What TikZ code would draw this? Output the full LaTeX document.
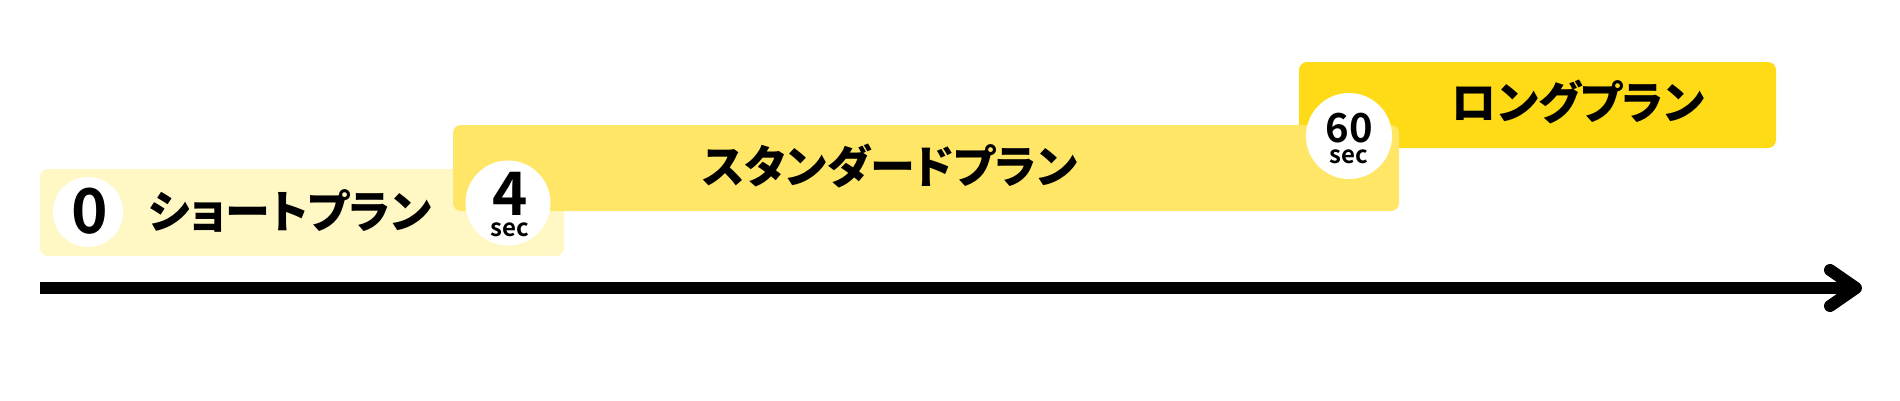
\documentclass[tikz,border=0pt]{standalone}
\usepackage{fontspec}
\newfontfamily\jp{Noto Sans CJK JP Black}[RawFeature={+palt}]
\newfontfamily\num{Noto Sans CJK JP Bold}
\definecolor{shortc}{HTML}{FFF8C4}
\definecolor{stdc}{HTML}{FFE666}
\definecolor{longc}{HTML}{FFDB17}
\begin{document}
\begin{tikzpicture}[x=1pt,y=-1pt,
  plan/.style={rounded corners=8pt},
  badge/.style={circle,fill=white,inner sep=0pt},
  jtext/.style={inner sep=0pt,font=\jp\fontsize{45}{45}\selectfont},
  bignum/.style={inner sep=0pt,font=\num\fontsize{62}{62}\selectfont},
  seclabel/.style={inner sep=0pt,align=center,font=\num\fontsize{24}{21}\selectfont},
  axis/.style={line width=12pt}]
\useasboundingbox (0,0) rectangle (1900,400);
\fill[shortc,plan] (40,169) rectangle (564,256);
\fill[longc,plan] (1299,62) rectangle (1776,148);
\fill[stdc,plan] (453,125) rectangle (1399,211);
% badges
\node[badge,minimum size=70pt] (c0) at (88,212) {};
\node[badge,minimum size=85pt] (c4) at (508,203) {};
\node[badge,minimum size=86pt] (c60) at (1349,136) {};
\node[bignum] (n0) at (90,211) {0};
\node[seclabel] (n4) at (510,205) {{\fontsize{60}{60}\selectfont 4}\\sec};
\node[seclabel] (n60) at (1349,138) {{\fontsize{40}{40}\selectfont 60}\\sec};
% labels
\node[jtext] (tshort) at (290,211) {ショートプラン};
\node[jtext] (tstd) at (890,166) {スタンダードプラン};
\node[jtext] (tlong) at (1578,102) {ロングプラン};
% axis
\coordinate (a0) at (40,288);
\coordinate (a1) at (1856,288);
\coordinate (h1) at (1830,270);
\coordinate (h2) at (1830,306);
\draw[axis] (a0) -- (a1);
\draw[axis,line cap=round,line join=round] (h1) -- (a1) -- (h2);
\end{tikzpicture}
\end{document}
